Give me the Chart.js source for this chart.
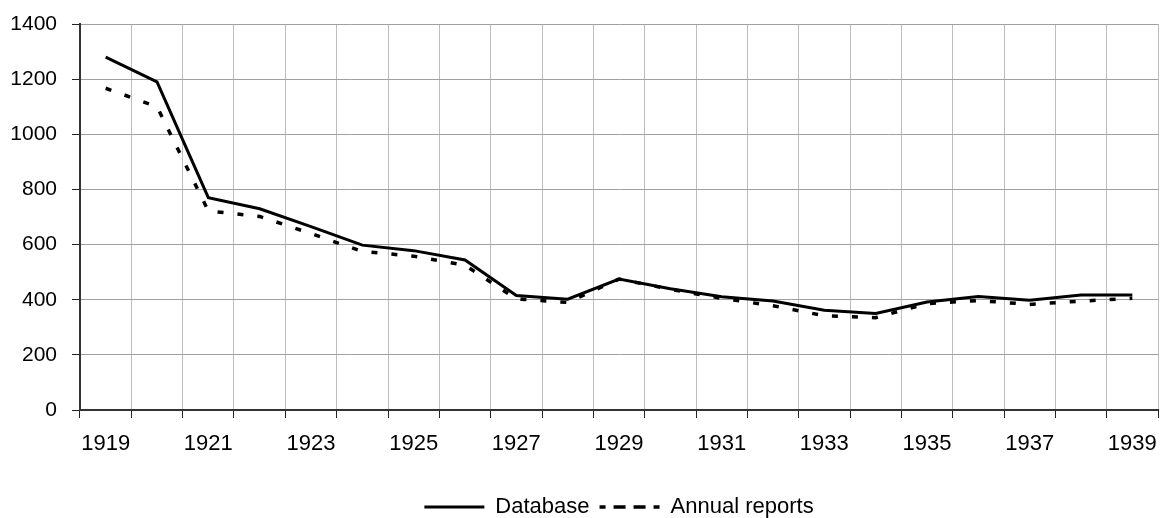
<!DOCTYPE html>
<html>
<head>
<meta charset="utf-8">
<script src="https://cdn.jsdelivr.net/npm/chart.js@4/dist/chart.umd.min.js"></script>
<style>
  html, body { margin: 0; padding: 0; background: #ffffff; }
  #wrap { width: 1160px; height: 518px; }
</style>
</head>
<body>
<div id="wrap"><canvas id="chartCasos"></canvas></div>
<script>
// Datos
const years = ['1919', '1920', '1921', '1922', '1923', '1924', '1925', '1926', '1927', '1928',
               '1929', '1930', '1931', '1932', '1933', '1934', '1935', '1936', '1937', '1938', '1939'];
const databaseValues = [1280, 1190, 770, 730, 665, 598, 578, 544, 415, 402,
                        475, 440, 411, 395, 362, 350, 392, 412, 398, 417, 417];
const annualReportValues = [1167, 1100, 722, 702, 640, 575, 558, 525, 403, 390,
                            475, 438, 405, 378, 342, 335, 386, 397, 383, 395, 405];
const yTicks = [0, 200, 400, 600, 800, 1000, 1200, 1400];

let chartCasos = null;

const fuente = "'Liberation Sans', Arial, sans-serif";

const crearGrafica = () => {
    const ctx = document.getElementById('chartCasos').getContext('2d');

    if (chartCasos) {
        chartCasos.destroy();
    }

    chartCasos = new Chart(ctx, {
        type: 'line',
        data: {
            labels: years,
            datasets: [
                {
                    label: 'Database',
                    data: databaseValues,
                    borderColor: '#000000',
                    backgroundColor: '#000000',
                    borderWidth: 3,
                    pointRadius: 0,
                    tension: 0,
                    fill: false
                },
                {
                    label: 'Annual reports',
                    data: annualReportValues,
                    borderColor: '#000000',
                    backgroundColor: '#000000',
                    borderWidth: 3.5,
                    borderDash: [6, 14],
                    pointRadius: 0,
                    tension: 0,
                    fill: false
                }
            ]
        },
        options: {
            responsive: true,
            maintainAspectRatio: false,
            animation: false,
            layout: {
                padding: { top: 24, right: 2, left: 0, bottom: 0 }
            },
            plugins: {
                legend: {
                    position: 'bottom',
                    fullSize: false,
                    maxHeight: 32,
                    labels: {
                        color: '#000000',
                        font: { family: fuente, size: 22 },
                        boxWidth: 60,
                        boxHeight: 0,
                        padding: 10
                    }
                },
                tooltip: { enabled: false }
            },
            scales: {
                x: {
                    offset: true,
                    grid: {
                        offset: true,
                        color: '#bdbdbd',
                        lineWidth: 1,
                        tickColor: '#222222',
                        tickLength: 8
                    },
                    border: { color: '#333333', width: 2 },
                    ticks: {
                        autoSkip: false,
                        maxRotation: 0,
                        padding: 13,
                        color: '#000000',
                        font: { family: fuente, size: 22 },
                        callback: (value, index) => (index % 2 === 0 ? years[index] : '')
                    },
                    afterFit: (scale) => {
                        scale.height = 76;
                        scale.paddingLeft = 0;
                        scale.paddingRight = 0;
                    }
                },
                y: {
                    min: yTicks[0],
                    max: yTicks[yTicks.length - 1],
                    grid: {
                        color: '#a0a0a0',
                        lineWidth: 1,
                        tickColor: '#222222',
                        tickLength: 8
                    },
                    border: { color: '#333333', width: 2 },
                    ticks: {
                        stepSize: 200,
                        padding: 15,
                        color: '#000000',
                        font: { family: fuente, size: 21 },
                        callback: (value) => String(value)
                    },
                    afterBuildTicks: (scale) => {
                        scale.ticks = yTicks.map(v => ({ value: v }));
                    },
                    afterFit: (scale) => {
                        scale.width = 80;
                        scale.paddingTop = 0;
                        scale.paddingBottom = 0;
                    }
                }
            }
        }
    });
};

document.addEventListener('DOMContentLoaded', function() {
    crearGrafica();
});
</script>
</body>
</html>
